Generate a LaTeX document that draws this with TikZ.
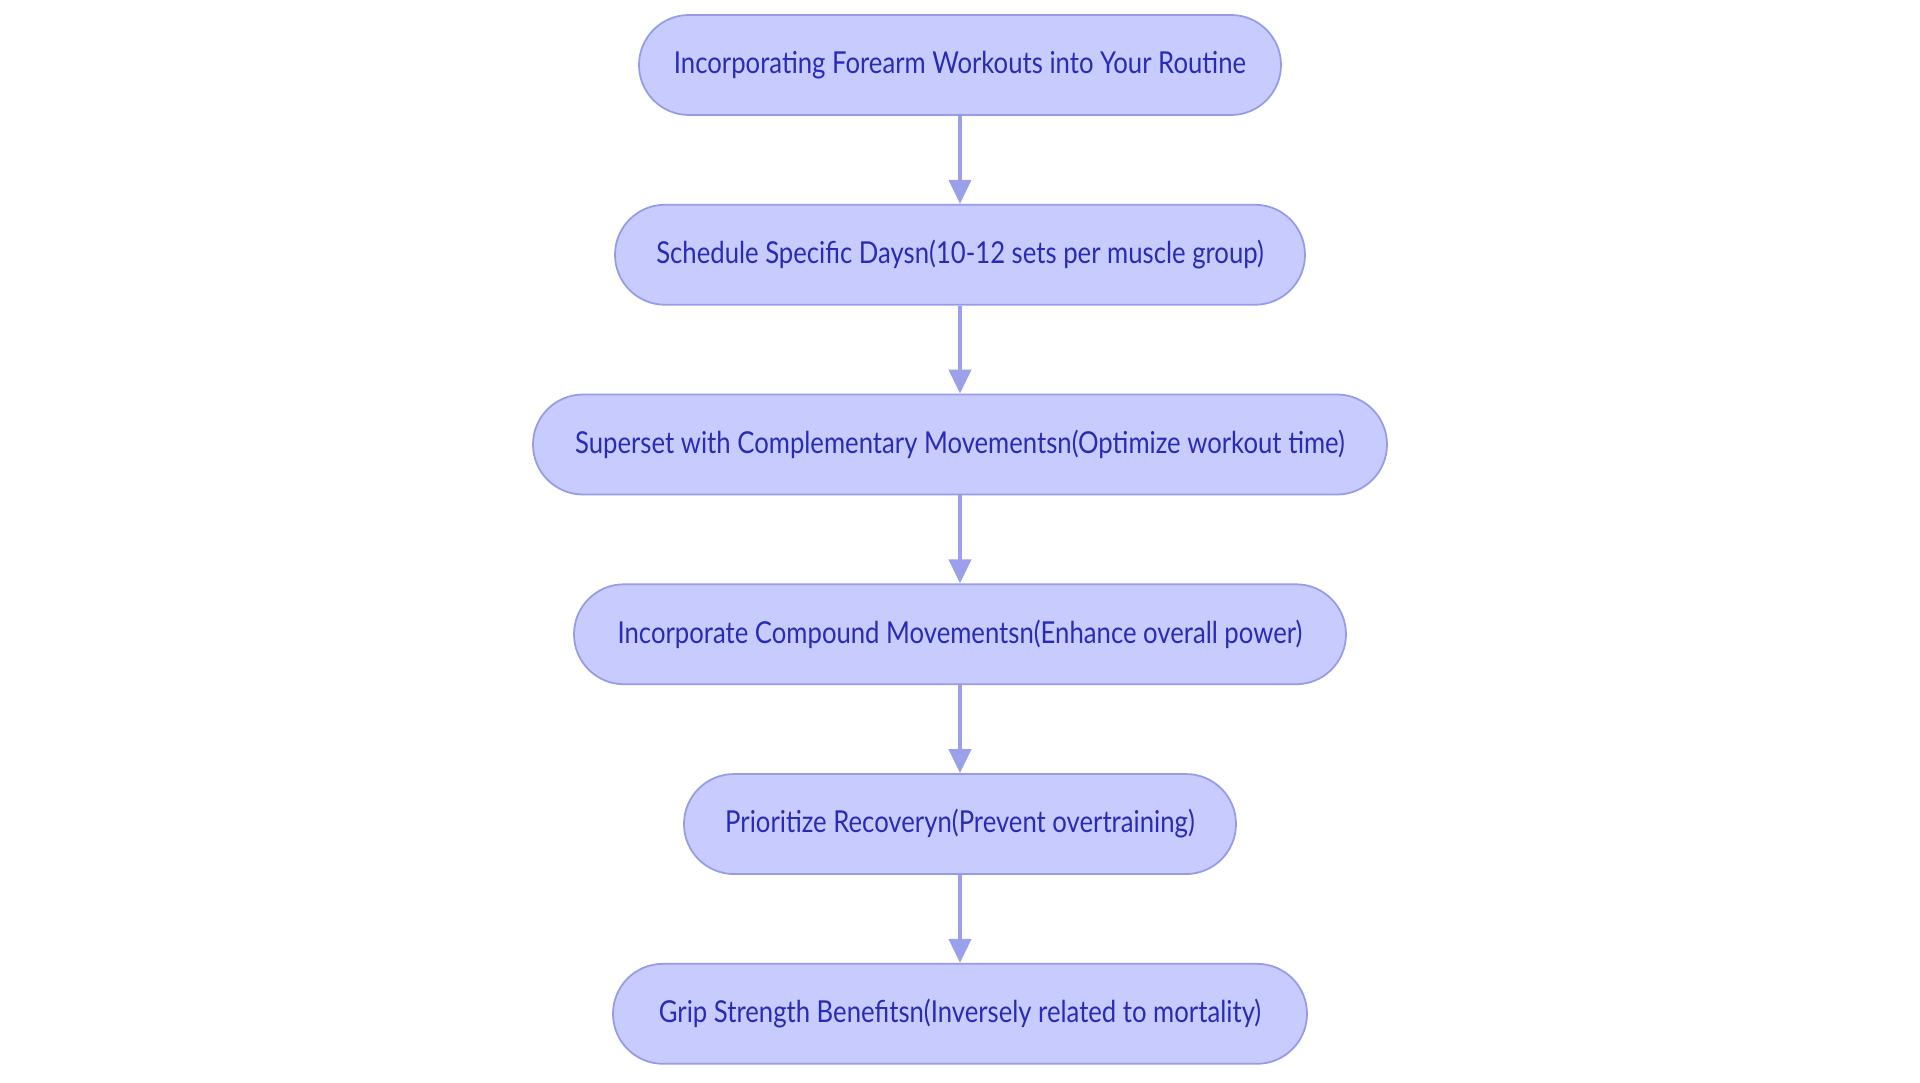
\documentclass[tikz,border=0pt]{standalone}
\usepackage{fontspec}
\setmainfont[FakeStretch=0.85]{Lato}
\usetikzlibrary{positioning,arrows.meta}
\definecolor{boxfill}{RGB}{200,203,253}
\definecolor{boxline}{RGB}{150,155,232}
\definecolor{boxtext}{RGB}{40,44,180}
\definecolor{flowline}{RGB}{155,160,235}
\tikzset{>={Triangle[length=0.24cm,width=0.22cm]},
  stepbox/.style={draw=boxline, fill=boxfill, text=boxtext, rounded corners=0.5cm,
    minimum height=1cm, line width=0.5pt, font=\fontsize{8.6}{10}\selectfont},
  flow/.style={->, draw=flowline, line width=1.1pt}}

\begin{document}
\begin{tikzpicture}
      \useasboundingbox (-9.6,0) rectangle (9.6,-10.83);
      \node[stepbox, minimum width=6.42cm] (forearm) at (0,-0.65)
        {Incorporating Forearm Workouts into Your Routine};
      \node[stepbox, minimum width=6.90cm, below=0.88cm of forearm] (schedule)
        {Schedule Specific Daysn(10-12 sets per muscle group)};
      \node[stepbox, minimum width=8.54cm, below=0.88cm of schedule] (superset)
        {Superset with Complementary Movementsn(Optimize workout time)};
      \node[stepbox, minimum width=7.72cm, below=0.88cm of superset] (compound)
        {Incorporate Compound Movementsn(Enhance overall power)};
      \node[stepbox, minimum width=5.52cm, below=0.88cm of compound] (recovery)
        {Prioritize Recoveryn(Prevent overtraining)};
      \node[stepbox, minimum width=6.94cm, below=0.88cm of recovery] (grip)
        {Grip Strength Benefitsn(Inversely related to mortality)};
      % arrows between the steps
      \draw[flow] (forearm) -- (schedule);
      \draw[flow] (schedule) -- (superset);
      \draw[flow] (superset) -- (compound);
      \draw[flow] (compound) -- (recovery);
      \draw[flow] (recovery) -- (grip);
    \end{tikzpicture}
\end{document}
